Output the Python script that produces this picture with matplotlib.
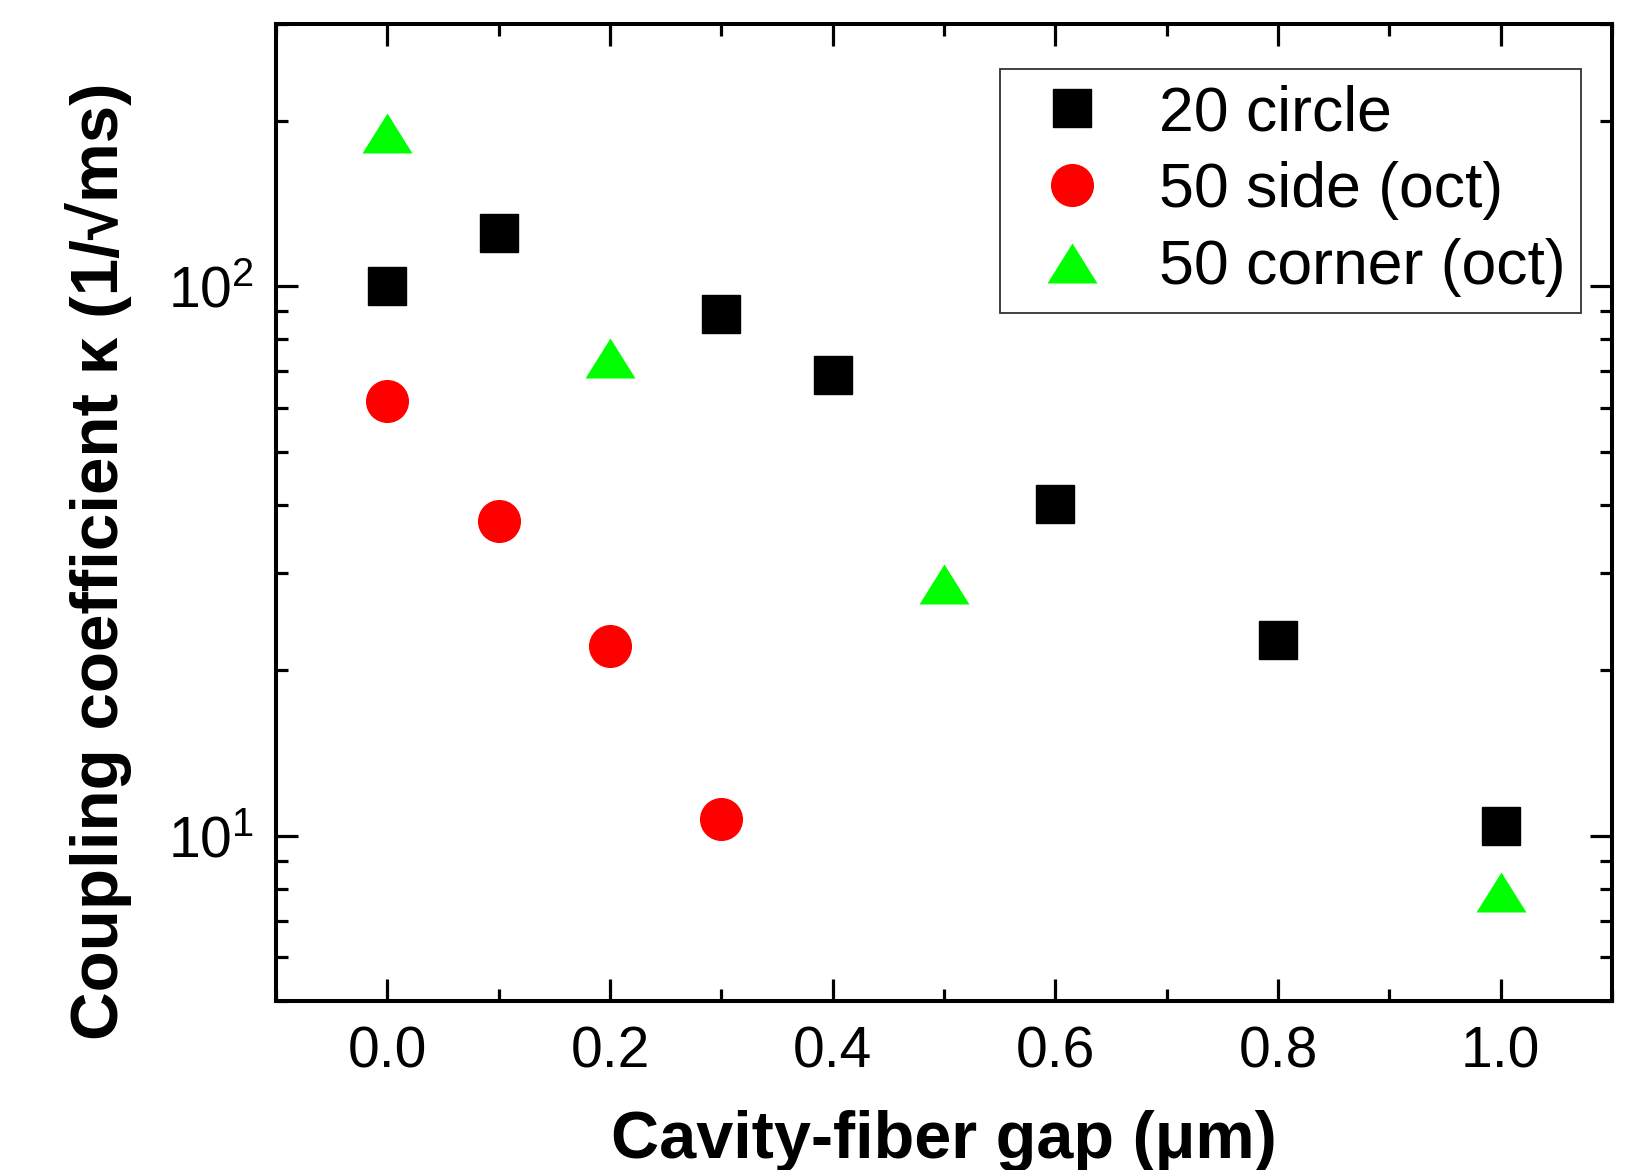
import matplotlib
matplotlib.use("Agg")
import matplotlib.pyplot as plt
from matplotlib.ticker import FixedLocator, FixedFormatter, LogLocator, NullFormatter, MultipleLocator, FormatStrFormatter

plt.rcParams['font.family'] = ['Liberation Sans', 'DejaVu Sans']
plt.rcParams['mathtext.fontset'] = 'custom'
plt.rcParams['mathtext.rm'] = 'Liberation Sans'

circle_x = [0.0, 0.1, 0.3, 0.4, 0.6, 0.8, 1.0]
circle_y = [100, 125, 89, 69, 40.2, 22.7, 10.4]
side_x = [0.0, 0.1, 0.2, 0.3]
side_y = [61.7, 37.3, 22.1, 10.7]
corner_x = [0.0, 0.2, 0.5, 1.0]
corner_y = [190, 74, 28.7, 7.9]

W, H = 1628, 1170
fig = plt.figure(figsize=(W/100, H/100), dpi=100)
ax = fig.add_axes([276/W, 1 - 1001/H, (1612-276)/W, (1001-24)/H])

tri = [(-1, -0.8), (1, -0.8), (0, 0.8), (-1, -0.8)]

ax.plot(circle_x, circle_y, 's', color='black', markersize=27.5, linestyle='none', label='20 circle')
ax.plot(side_x, side_y, 'o', color='#ff0000', markeredgecolor='#ff0000', markersize=30,
        linestyle='none', label='50 side (oct)')
ax.plot(corner_x, corner_y, marker=tri, color='#00ff00', markeredgewidth=0, markersize=36,
        linestyle='none', label='50 corner (oct)')

ax.set_yscale('log')
ax.set_xlim(-0.1, 1.1)
ax.set_ylim(5, 300)

ax.xaxis.set_major_locator(MultipleLocator(0.2))
ax.xaxis.set_minor_locator(MultipleLocator(0.1))
ax.xaxis.set_major_formatter(FormatStrFormatter('%.1f'))
ax.yaxis.set_major_locator(FixedLocator([10, 100]))
ax.yaxis.set_major_formatter(FixedFormatter([r'$\mathregular{10^1}$', r'$\mathregular{10^2}$']))
ax.yaxis.set_minor_locator(LogLocator(base=10, subs=range(2, 10)))
ax.yaxis.set_minor_formatter(NullFormatter())

for s in ax.spines.values():
    s.set_linewidth(2.9)
ax.tick_params(which='both', direction='in', top=True, right=True, width=2.3)
ax.tick_params(which='major', length=16, labelsize=41)
ax.tick_params(which='minor', length=8.5)
ax.tick_params(axis='x', which='major', pad=18)
ax.tick_params(axis='y', which='major', pad=16)

ax.set_xlabel('Cavity-fiber gap (μm)', fontsize=48, fontweight='bold')
ax.xaxis.set_label_coords(0.5, -(1158 - 1001) / (1001 - 24))
ax.xaxis.label.set_va('baseline')
ax.set_ylabel('Coupling coefficient κ (1/√ms)', fontsize=48.5, fontweight='bold')
ax.yaxis.set_label_coords((132 - 276) / (1612 - 276), (1001 - 561) / (1001 - 24))

leg = ax.legend(loc='upper right', bbox_to_anchor=(1581/W, 1 - 68.5/H), bbox_transform=fig.transFigure,
                fontsize=45, frameon=True, fancybox=False, edgecolor='black',
                borderpad=0.25, handletextpad=0.5, labelspacing=0.29,
                borderaxespad=0, handlelength=1.79)
leg.get_frame().set_linewidth(1.3)

fig.savefig('out.png', dpi=100)
